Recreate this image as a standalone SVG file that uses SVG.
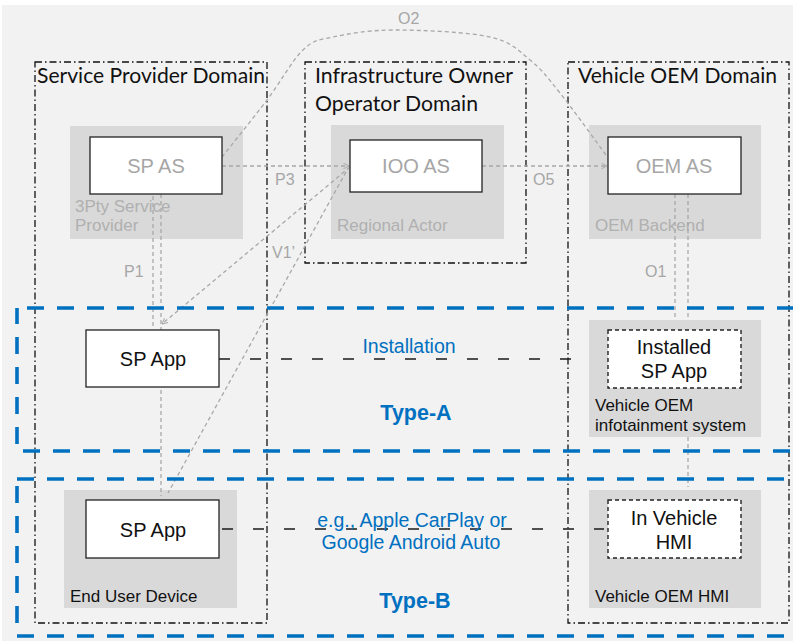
<svg xmlns="http://www.w3.org/2000/svg" width="793" height="641" viewBox="0 0 793 641">
  <style>
    .domain { fill: none; stroke: #111; stroke-width: 1.3; stroke-dasharray: 7 3 1.5 3; }
    .title { font-family: Lato, "Open Sans", sans-serif; font-size: 20.5px; fill: #111; }
    .group { fill: #d9d9d9; }
    .box { fill: #fff; stroke: #222; stroke-width: 1.3; }
    .dbox { fill: #fff; stroke: #222; stroke-width: 1.4; stroke-dasharray: 4 3; }
    .as { font-family: "Liberation Sans", Arial, sans-serif; font-size: 20px; fill: #a6a6a6; text-anchor: middle; }
    .app { font-family: "Liberation Sans", Arial, sans-serif; font-size: 20px; fill: #111; text-anchor: middle; }
    .glabel { font-family: "Liberation Sans", Arial, sans-serif; font-size: 17px; fill: #b0b0b0; }
    .blabel { font-family: "Liberation Sans", Arial, sans-serif; font-size: 17px; fill: #111; }
    .ref { fill: none; stroke: #a8a8a8; stroke-width: 1.3; stroke-dasharray: 4 3; }
    .link { fill: none; stroke: #1a1a1a; stroke-width: 1.5; stroke-dasharray: 11 20; }
    .rlabel { font-family: "Liberation Sans", Arial, sans-serif; font-size: 16px; fill: #a6a6a6; }
    .blue { font-family: "Liberation Sans", Arial, sans-serif; font-size: 19.5px; fill: #0070c0; text-anchor: middle; }
    .type { font-family: "Liberation Sans", Arial, sans-serif; font-size: 21.5px; font-weight: bold; fill: #0070c0; text-anchor: middle; }
    .zone { fill: none; stroke: #0070c0; stroke-width: 3.6; stroke-dasharray: 17 13; }
  </style>
  <defs>
    <marker id="chev" viewBox="0 0 10 10" refX="9" refY="5" markerWidth="7" markerHeight="7" markerUnits="userSpaceOnUse" orient="auto">
      <path d="M1,1 L9,5 L1,9" fill="none" stroke="#a8a8a8" stroke-width="1.4"/>
    </marker>
  </defs>

  <!-- canvas -->
  <rect x="2" y="5" width="791" height="636" fill="#f2f2f2"/>

  <!-- domains -->
  <g id="sp-domain">
    <rect class="domain" x="35" y="62" width="232" height="561"/>
    <text class="title" x="37" y="83" textLength="228" lengthAdjust="spacingAndGlyphs">Service Provider Domain</text>
  </g>
  <g id="ioo-domain">
    <rect class="domain" x="305" y="62" width="221" height="201"/>
    <text class="title" x="315" y="83" textLength="198" lengthAdjust="spacingAndGlyphs">Infrastructure Owner</text>
    <text class="title" x="315" y="111" textLength="163" lengthAdjust="spacingAndGlyphs">Operator Domain</text>
  </g>
  <g id="oem-domain">
    <rect class="domain" x="568" y="62" width="221" height="561"/>
    <text class="title" x="578" y="83" textLength="199" lengthAdjust="spacingAndGlyphs">Vehicle OEM Domain</text>
  </g>

  <!-- backing groups -->
  <g id="sp-provider">
    <rect class="group" x="70" y="126" width="173" height="113"/>
    <text class="glabel" x="75" y="212">3Pty Service</text>
    <text class="glabel" x="75" y="231">Provider</text>
  </g>
  <g id="ioo-regional">
    <rect class="group" x="331" y="125" width="173" height="114"/>
    <text class="glabel" x="337" y="231">Regional Actor</text>
  </g>
  <g id="oem-backend">
    <rect class="group" x="589" y="125" width="172" height="114"/>
    <text class="glabel" x="595" y="231">OEM Backend</text>
  </g>
  <g id="end-user-device">
    <rect class="group" x="64" y="490" width="173" height="118"/>
    <text class="blabel" x="70" y="602">End User Device</text>
  </g>
  <g id="vehicle-hmi">
    <rect class="group" x="589" y="490" width="172" height="118"/>
    <text class="blabel" x="595" y="602">Vehicle OEM HMI</text>
  </g>

  <!-- reference points and links -->
  <g id="connectors">
    <!-- P1 -->
    <line class="ref" x1="153" y1="196" x2="153" y2="328"/>
    <line class="ref" x1="161" y1="194" x2="161" y2="496"/>
    <!-- P3 -->
    <line class="ref" x1="222" y1="166" x2="349" y2="166" marker-end="url(#chev)"/>
    <!-- V1' -->
    <line class="ref" x1="350" y1="167" x2="162" y2="324" marker-end="url(#chev)"/>
    <line class="ref" x1="346" y1="172" x2="168" y2="493"/>
    <!-- O5 -->
    <line class="ref" x1="482" y1="166" x2="607" y2="166" marker-end="url(#chev)"/>
    <!-- O1 -->
    <line class="ref" x1="675" y1="194" x2="675" y2="330"/>
    <line class="ref" x1="688" y1="194" x2="688" y2="320"/>
    <line class="ref" x1="688" y1="437" x2="688" y2="487"/>
    <!-- O2 -->
    <path class="ref" d="M222,157 C229.5,147.5 253.5,117.8 267,100 C280.5,82.2 292,60.5 303,50 C314,39.5 317.7,40.3 333,37 C348.3,33.7 368.8,30 395,30 C421.2,30 467.5,32 490,37 C512.5,42 518.3,50.7 530,60 C541.7,69.3 547.3,77.2 560,93 C572.7,108.8 598.3,144.7 606,155"/>
    <!-- app links -->
    <line class="link" x1="219" y1="359" x2="604" y2="359"/>
    <line class="link" x1="222" y1="529" x2="604" y2="529"/>

    <text class="rlabel" x="398" y="24">O2</text>
    <text class="rlabel" x="275" y="185">P3</text>
    <text class="rlabel" x="272" y="258">V1’</text>
    <text class="rlabel" x="124" y="277">P1</text>
    <text class="rlabel" x="533" y="185">O5</text>
    <text class="rlabel" x="645" y="277">O1</text>
    <text class="blue" x="409" y="353">Installation</text>
    <text class="blue" x="412" y="527">e.g., Apple CarPlay or</text>
    <text class="blue" x="411" y="549">Google Android Auto</text>
  </g>

  <!-- infotainment system sits over the O1 through-line -->
  <g id="infotainment">
    <rect class="group" x="589" y="320" width="172" height="117"/>
    <text class="blabel" x="595" y="411">Vehicle OEM</text>
    <text class="blabel" x="595" y="431">infotainment system</text>
  </g>

  <!-- servers and apps -->
  <g id="sp-as">
    <rect class="box" x="90" y="137" width="132" height="57"/>
    <text class="as" x="156" y="173">SP AS</text>
  </g>
  <g id="ioo-as">
    <rect class="box" x="350" y="140" width="132" height="52"/>
    <text class="as" x="416" y="173">IOO AS</text>
  </g>
  <g id="oem-as">
    <rect class="box" x="608" y="137" width="133" height="57"/>
    <text class="as" x="674" y="173">OEM AS</text>
  </g>
  <g id="sp-app-a">
    <rect class="box" x="86" y="330" width="133" height="57"/>
    <text class="app" x="153" y="366">SP App</text>
  </g>
  <g id="installed-sp-app">
    <rect class="dbox" x="608" y="330" width="133" height="58"/>
    <text class="app" x="674" y="354">Installed</text>
    <text class="app" x="674" y="378">SP App</text>
  </g>
  <g id="sp-app-b">
    <rect class="box" x="86" y="500" width="133" height="58"/>
    <text class="app" x="153" y="537">SP App</text>
  </g>
  <g id="in-vehicle-hmi">
    <rect class="dbox" x="608" y="500" width="133" height="58"/>
    <text class="app" x="674" y="525">In Vehicle</text>
    <text class="app" x="674" y="549">HMI</text>
  </g>

  <!-- deployment types -->
  <g id="type-a">
    <rect class="zone" x="17" y="308" width="800" height="143" stroke-dashoffset="20"/>
    <text class="type" x="416" y="420">Type-A</text>
  </g>
  <g id="type-b">
    <rect class="zone" x="17" y="479" width="800" height="157"/>
    <text class="type" x="415" y="608">Type-B</text>
  </g>
</svg>
